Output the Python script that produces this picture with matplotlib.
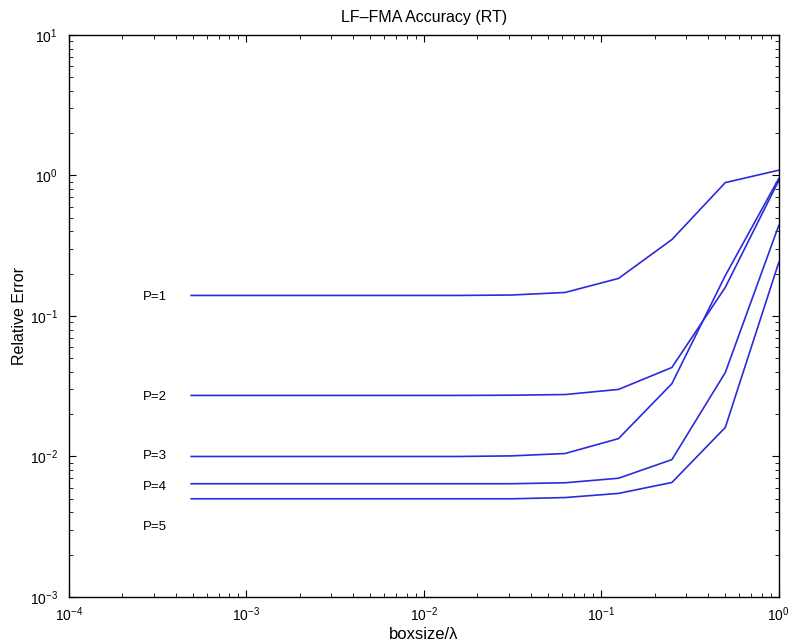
import matplotlib
matplotlib.use("Agg")
import matplotlib.pyplot as plt
from matplotlib.ticker import LogLocator, NullFormatter

plt.rcParams['font.family'] = ['Liberation Sans', 'DejaVu Sans']
plt.rcParams['mathtext.fontset'] = 'custom'
plt.rcParams['mathtext.rm'] = 'Liberation Sans'

boxsize = [0.00048828125, 0.0009765625, 0.001953125, 0.00390625, 0.0078125,
           0.015625, 0.03125, 0.0625, 0.125, 0.25, 0.5, 1.0]

err_p1 = [0.140, 0.140, 0.140, 0.140, 0.140, 0.140, 0.141, 0.147, 0.185, 0.35, 0.89, 1.09]
err_p2 = [0.0272, 0.0272, 0.0272, 0.0272, 0.0272, 0.0272, 0.0273, 0.0276, 0.030, 0.043, 0.16, 0.92]
err_p3 = [0.0100, 0.0100, 0.0100, 0.0100, 0.0100, 0.0100, 0.0101, 0.0105, 0.0134, 0.033, 0.194, 0.95]
err_p4 = [0.0064, 0.0064, 0.0064, 0.0064, 0.0064, 0.0064, 0.0064, 0.0065, 0.0070, 0.0095, 0.0396, 0.44]
err_p5 = [0.0050, 0.0050, 0.0050, 0.0050, 0.0050, 0.0050, 0.0050, 0.0051, 0.00546, 0.00653, 0.0161, 0.24]

series = [err_p1, err_p2, err_p3, err_p4, err_p5]
labels = ["P=1", "P=2", "P=3", "P=4", "P=5"]
label_x = 2.6e-4
label_y = [0.136, 0.0263, 0.0101, 0.00602, 0.00313]

fig = plt.figure(figsize=(7.93, 6.44), dpi=100)
ax = fig.add_axes([0.087, 0.073, 0.895, 0.8727])

for s in series:
    ax.loglog(boxsize, s, color='#2b2bdc', lw=1.2)

for lab, ly in zip(labels, label_y):
    ax.text(label_x, ly, lab, fontsize=9.5, ha='left', va='center')

ax.set_xlim(1e-4, 1)
ax.set_ylim(1e-3, 10)
ax.set_title("LF\u2013FMA Accuracy (RT)", fontsize=11.5, pad=9)
ax.set_xlabel("boxsize/\u03bb", fontsize=12, labelpad=2)
ax.set_ylabel("Relative Error", fontsize=11.5, labelpad=2)

ax.xaxis.set_major_locator(LogLocator(base=10, numticks=10))
ax.yaxis.set_major_locator(LogLocator(base=10, numticks=10))
ax.xaxis.set_minor_locator(LogLocator(base=10, subs=range(2, 10), numticks=20))
ax.yaxis.set_minor_locator(LogLocator(base=10, subs=range(2, 10), numticks=20))
ax.xaxis.set_minor_formatter(NullFormatter())
ax.yaxis.set_minor_formatter(NullFormatter())
ax.tick_params(which='both', direction='in', top=True, right=True, labelsize=10)
ax.tick_params(which='major', length=5)
ax.tick_params(which='minor', length=3)
ax.tick_params(axis='x', pad=6)
ax.tick_params(axis='y', pad=8)
for sp in ax.spines.values():
    sp.set_linewidth(1.0)

fig.savefig("out.png", dpi=100)
